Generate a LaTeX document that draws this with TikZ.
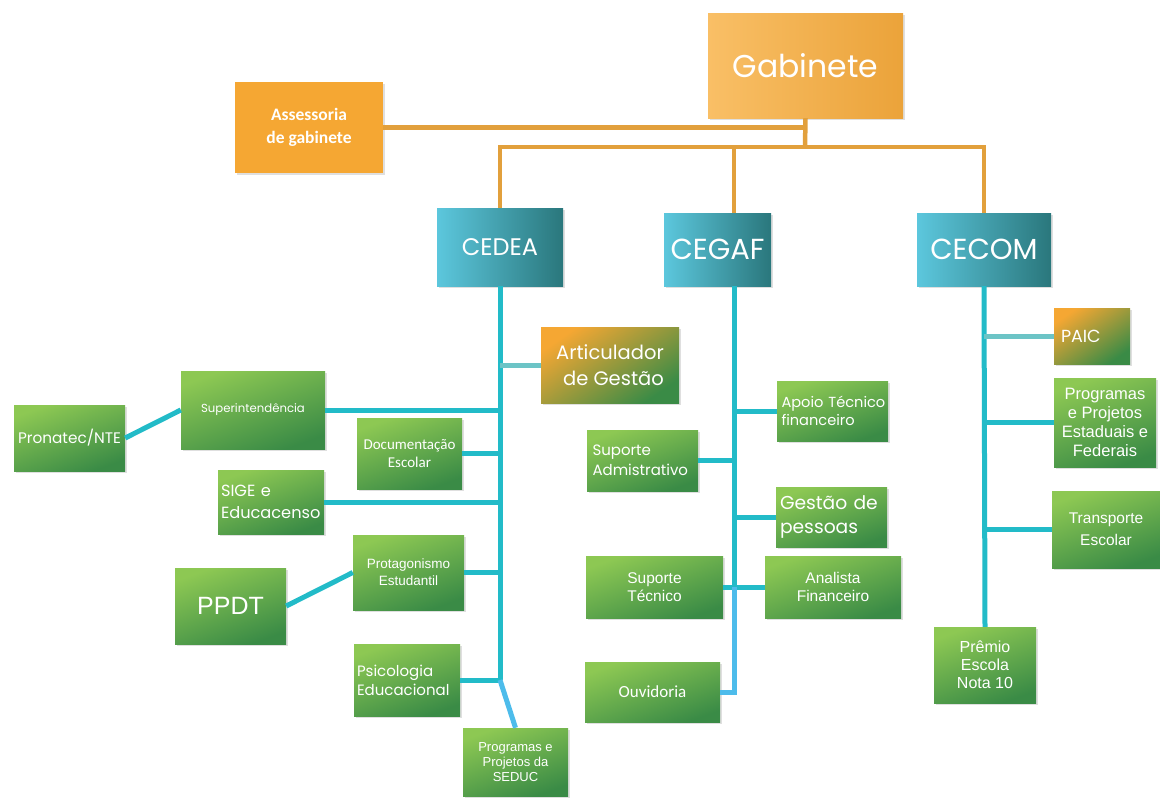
\documentclass[tikz,border=0pt]{standalone}
\usepackage{fontspec}
\newfontfamily\gothic{Poppins}
\newfontfamily\arialf{Liberation Sans}
\newfontfamily\calib{Carlito}
\usetikzlibrary{positioning,shadows}
\definecolor{orgA}{HTML}{F9BF66}
\definecolor{orgB}{HTML}{EBA33A}
\definecolor{orgC}{HTML}{F5A733}
\definecolor{orgline}{HTML}{E2A03C}
\definecolor{tealA}{HTML}{5CC7DD}
\definecolor{tealB}{HTML}{2A777C}
\definecolor{grnA}{HTML}{8DC853}
\definecolor{grnB}{HTML}{3A8B46}
\definecolor{tline}{HTML}{22BBC8}
\definecolor{tpale}{HTML}{6CC4C6}
\definecolor{bline}{HTML}{4DBCEB}
\newcommand\fsz[2]{\fontsize{#1}{#2}\selectfont}

\begin{document}
\begin{tikzpicture}[x=1pt, y=-1pt, node distance=1cm, on grid,
  base/.style={inner sep=3pt, text=white, drop shadow={opacity=0.25, shadow xshift=1.5pt, shadow yshift=-1.5pt}},
  sz/.style 2 args={minimum width=#1pt, minimum height=#2pt},
  gbox/.style={base, top color=grnA, bottom color=grnB, shading angle=20},
  tbox/.style={base, left color=tealA, right color=tealB, font=\gothic},
  obox/.style={base, top color=orgC, bottom color=grnB, shading angle=35},
  orange line/.style={draw=orgline, line width=4.5pt},
  teal line/.style={draw=tline, line width=5pt},
  pale line/.style={draw=tpale, line width=5pt},
  blue line/.style={draw=bline, line width=5pt}]
	\fill[white] (0,0) rectangle (1160,798);
	\useasboundingbox (0,0) rectangle (1160,798);
	% top level
	\node[base, sz={195}{105}, left color=orgA, right color=orgB, font=\gothic\fsz{31.5}{36}] (gab) at (805.5,65.5) {Gabinete};
	\node[base, sz={148}{91}, fill=orgC, font=\calib\bfseries\fsz{17.5}{23}, align=center] (asses) at (309,127.5) {Assessoria\\de gabinete};
	\node[tbox, sz={126}{78}, font=\gothic\fsz{24}{28}] (cedea) at (500,247) {CEDEA};
	\node[tbox, sz={107}{73}, font=\gothic\fsz{29}{34}] (cegaf) at (717.5,249.5) {CEGAF};
	\node[tbox, sz={134}{73}, font=\gothic\fsz{29}{34}] (cecom) at (984,249.5) {CECOM};
	% CEDEA
	\node[obox, sz={138}{76}, font=\gothic\fsz{19.5}{26}, align=right] (artic) at (610,365) {Articulador\\de Gestão};
	\node[gbox, sz={144}{78}, font=\gothic\fsz{11.7}{14}] (super) at (253,410) {Superintendência};
	\node[gbox, sz={111}{66}, font=\gothic\fsz{15.3}{18}] (pron) [below left=28pt and 183.5pt of super] {Pronatec/NTE};
	\node[gbox, sz={105}{71}, font=\calib\fsz{15}{18.3}, align=center] (doc) at (409.5,453.5) {Documentação\\Escolar};
	\node[gbox, sz={106}{64}, font=\gothic\fsz{16.2}{22}, text width=100pt, align=left] (sige) at (271,502) {SIGE e\\Educacenso};
	\node[gbox, sz={111}{75}, font=\arialf\fsz{13.5}{16.7}, align=center] (prot) at (408.5,572.5) {Protagonismo\\Estudantil};
	\node[gbox, sz={111}{76}, font=\arialf\fsz{25}{30}] (ppdt) [below left=33.5pt and 178pt of prot] {PPDT};
	\node[gbox, sz={106}{72}, font=\gothic\fsz{15}{19}, text width=100pt, align=left] (psic) at (407,680) {Psicologia\\Educacional};
	\node[gbox, sz={105}{68}, font=\arialf\fsz{13}{15}, align=center] (pseduc) at (515.5,762) {Programas e\\Projetos da\\SEDUC};
	% CEGAF
	\node[gbox, sz={111}{60}, inner sep=1.5pt, font=\gothic\fsz{14.6}{18}, text width=108pt, align=left] (apoio) at (832.5,411) {\hspace*{3pt}Apoio Técnico\\\hspace*{3pt}financeiro};
	\node[gbox, sz={111}{61}, font=\gothic\fsz{15}{20}, text width=100pt, align=left] (supadm) at (642.5,460.5) {Suporte\\Admistrativo};
	\node[gbox, sz={111}{60}, font=\gothic\fsz{18.7}{24}, text width=103pt, align=left] (gestao) at (831.5,517) {Gestão de\\pessoas};
	\node[gbox, sz={137}{62}, font=\arialf\fsz{15.5}{17.7}, align=center] (suptec) at (654.5,587) {Suporte\\Técnico};
	\node[gbox, sz={136}{62}, font=\arialf\fsz{15.5}{17.7}, align=center] (analista) [right=178.5pt of suptec] {Analista\\Financeiro};
	\node[gbox, sz={135}{60}, font=\calib\fsz{17}{20}] (ouv) at (652.5,692) {Ouvidoria};
	% CECOM
	\node[obox, sz={76}{56}, font=\gothic\fsz{17.5}{20}, text width=62pt, align=left] (paic) at (1092,336) {PAIC};
	\node[gbox, sz={102}{89}, font=\arialf\fsz{16.5}{18.8}, align=center] (progest) at (1105,422.5) {Programas\\e Projetos\\Estaduais e\\Federais};
	\node[gbox, sz={108}{77}, font=\arialf\fsz{15.5}{21.7}, align=center] (transp) at (1106,529.5) {Transporte\\Escolar};
	\node[gbox, sz={102}{76}, font=\arialf\fsz{16}{18}, align=center] (premio) at (985,665) {Prêmio\\Escola\\Nota 10};
	% junctions
	\coordinate (bus) at (805,147);
	\coordinate (cegaft) at (734,286);
	\coordinate (cedeaend) at (cedea.south |- psic.east);
	\coordinate (cegafmid) at (cegaft |- suptec.east);
	\coordinate (cegafend) at (cegaft |- ouv.east);
	% orange links
	\path[orange line]
		(gab.south) edge (bus)
		(asses.east) edge (asses.east -| gab.south)
		(bus -| cegaft) edge (cegaft |- cegaf.north);
	\draw[orange line] (cedea.north) -- (cedea.north |- bus) -- (cecom.north |- bus) -- (cecom.north);
	% CEDEA links
	\path[teal line]
		(cedea.south) edge (cedeaend)
		(super.east) edge (super.east -| cedea.south)
		(doc.east) edge (doc.east -| cedea.south)
		(sige.east) edge (sige.east -| cedea.south)
		(prot.east) edge (prot.east -| cedea.south)
		(psic.east) edge (cedeaend)
		(pron.east) edge (super.west)
		(ppdt.east) edge (prot.west);
	\draw[pale line] (artic.west) -- (artic.west -| cedea.south);
	\draw[blue line] (cedeaend) -- (pseduc.north);
	% CEGAF links
	\path[teal line]
		(cegaft) edge (cegafmid)
		(apoio.west) edge (apoio.west -| cegaft)
		(supadm.east) edge (supadm.east -| cegaft)
		(gestao.west) edge (gestao.west -| cegaft)
		(suptec.east) edge (analista.west);
	\draw[blue line] (cegafmid) -- (cegafend) -- (ouv.east);
	% CECOM links
	\path[teal line]
		(cecom.south) edge (premio.north)
		(progest.west) edge (progest.west -| cecom.south)
		(transp.west) edge (transp.west -| cecom.south);
	\draw[pale line] (paic.west) -- (paic.west -| cecom.south);
\end{tikzpicture}
\end{document}
